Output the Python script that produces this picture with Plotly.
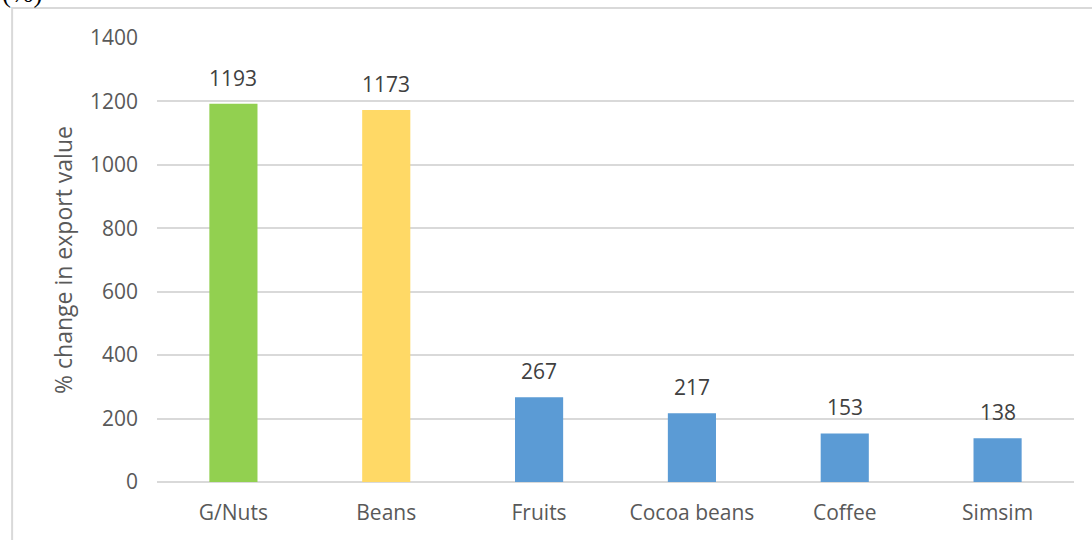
import plotly.graph_objects as go

# Commodities and their % change in export value
commodities = ["G/Nuts", "Beans", "Fruits", "Cocoa beans", "Coffee", "Simsim"]
pct_change = [1193, 1173, 267, 217, 153, 138]
bar_colors = ["#92D050", "#FFD966", "#5B9BD5", "#5B9BD5", "#5B9BD5", "#5B9BD5"]
y_ticks = [0, 200, 400, 600, 800, 1000, 1200, 1400]

FONT = "Open Sans"
GREY = "#595959"
SIZE = 21

fig = go.Figure(
    go.Bar(
        x=commodities,
        y=pct_change,
        marker=dict(color=bar_colors, line=dict(width=0)),
        width=0.315,
        hoverinfo="x+y",
    )
)

# value labels above each bar
for name, val in zip(commodities, pct_change):
    fig.add_annotation(
        x=name, y=val, text=str(val), showarrow=False,
        yanchor="bottom", yshift=10,
        font=dict(family=FONT, size=SIZE, color="#404040"),
    )

# partially visible heading at the very top-left
fig.add_annotation(
    xref="paper", yref="paper", x=-0.171, y=1.064,
    xanchor="left", yanchor="bottom", text="(%)", showarrow=False,
    font=dict(family="Liberation Serif", size=27, color="#000000"),
)

# light frame around the chart area
fig.add_shape(
    type="rect", xref="paper", yref="paper",
    x0=-0.158, x1=1.2, y0=-0.3, y1=1.0676,
    line=dict(color="#d9d9d9", width=2), fillcolor="rgba(0,0,0,0)", layer="below",
)

fig.update_layout(
    width=1092, height=540,
    margin=dict(l=157, r=18, t=38, b=58),
    paper_bgcolor="white", plot_bgcolor="white",
    showlegend=False,
    xaxis=dict(
        showgrid=False, showline=False, ticks="",
        ticklabelstandoff=16,
        tickfont=dict(family=FONT, size=SIZE, color=GREY),
        range=[-0.5, 5.5],
    ),
    yaxis=dict(
        range=[0, 1400], tickvals=y_ticks,
        showgrid=True, gridcolor="#d9d9d9", gridwidth=1.5,
        zeroline=True, zerolinecolor="#d9d9d9", zerolinewidth=1.5,
        showline=False, ticks="", ticklabelstandoff=18,
        tickfont=dict(family=FONT, size=SIZE, color=GREY),
        title=dict(text="% change in export value", standoff=10,
                   font=dict(family=FONT, size=SIZE + 2, color=GREY)),
    ),
)

fig.write_html("out.html")
